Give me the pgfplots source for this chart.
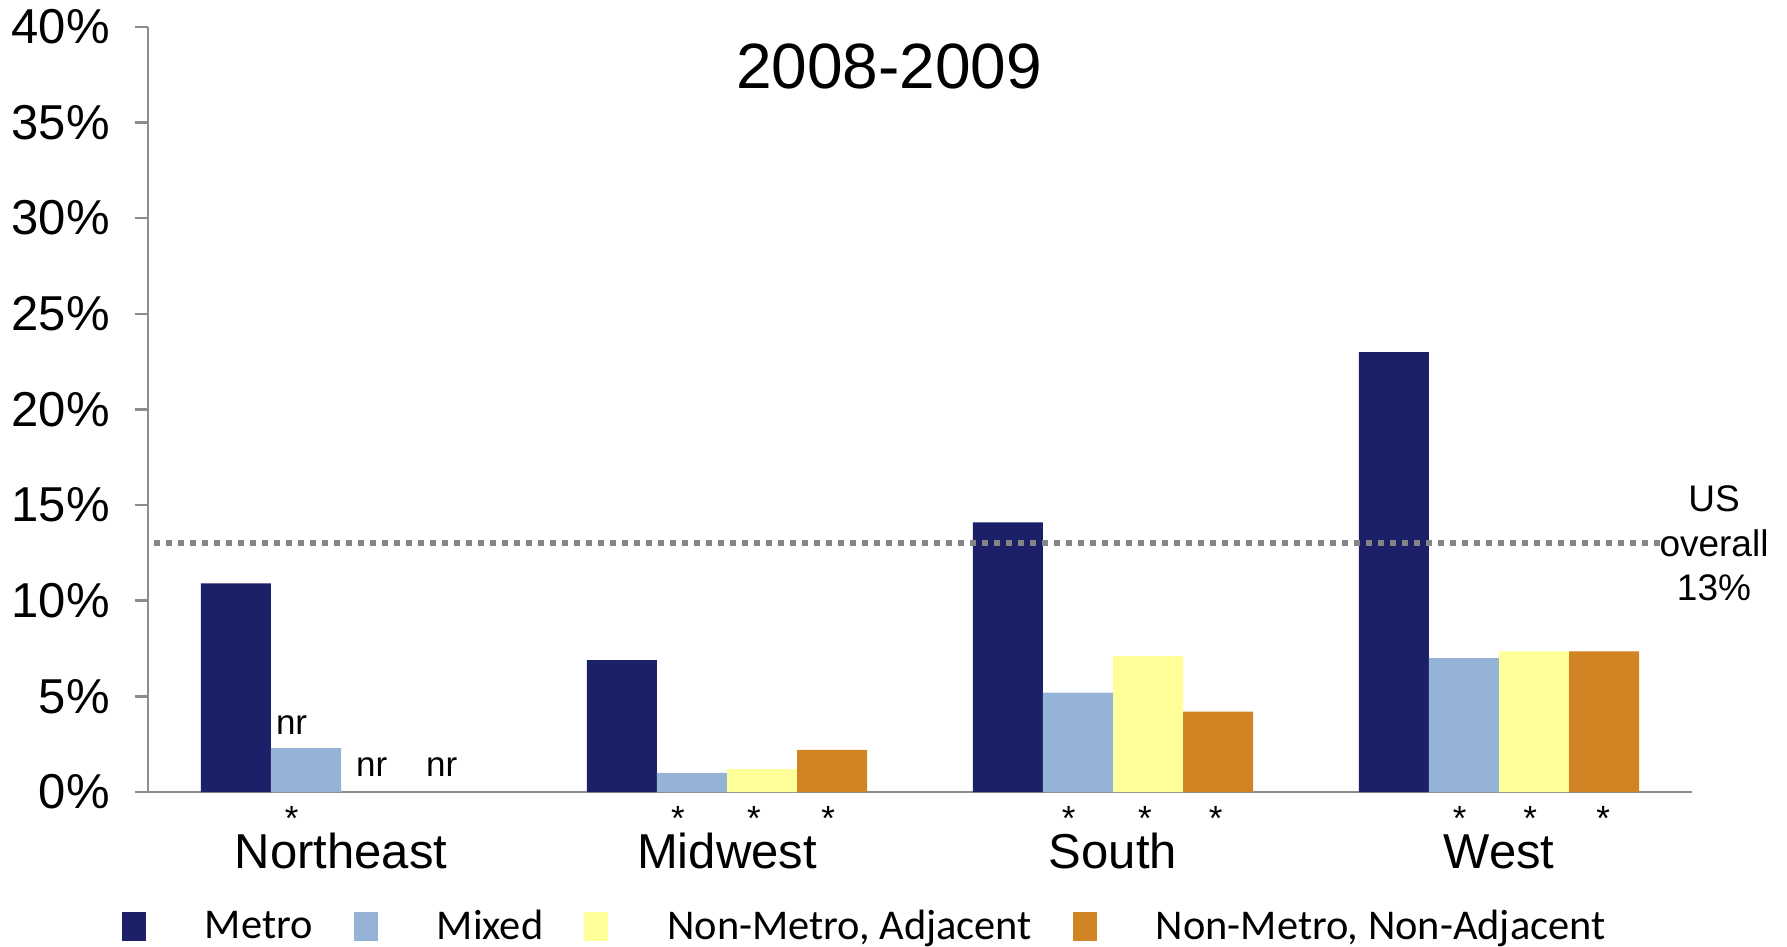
\documentclass[border=0pt]{standalone}
\usepackage{pgfplots}
\pgfplotsset{compat=1.18}
\usepackage{fontspec}
\setmainfont{Liberation Sans}
\newfontfamily\legfont{Carlito}
\definecolor{metro}{HTML}{1B2068}
\definecolor{mixed}{HTML}{95B3D7}
\definecolor{adj}{HTML}{FFFF99}
\definecolor{nonadj}{HTML}{D08424}
\definecolor{axgray}{HTML}{8C8C8C}
\definecolor{dotgray}{HTML}{858585}
\begin{document}
\begin{tikzpicture}
\begin{axis}[
  name=ax,
  width=772pt, height=382.6pt, scale only axis,
  xmin=-0.5, xmax=3.5, ymin=0, ymax=40,
  clip=false,
  axis x line*=bottom, axis y line*=left,
  axis line style={draw=axgray, line width=1.2pt},
  xtick={0,1,2,3}, xticklabels={Northeast,Midwest,South,West},
  xtick style={draw=none},
  xticklabel style={font=\fontsize{24.5}{29}\selectfont, anchor=base, inner sep=0pt, yshift=-31.6pt},
  ytick={0,5,...,40},
  yticklabel={\pgfmathprintnumber{\tick}\%},
  ytick style={draw=axgray, line width=1.2pt},
  tick align=outside, major tick length=6.7pt,
  /pgf/number format/assume math mode=true,
  yticklabel style={font=\fontsize{24.5}{29}\selectfont, anchor=east, inner sep=0pt, xshift=-12.3pt},
  legend columns=4,
  legend style={draw=none, fill=none, at={(rel axis cs:0,0)}, anchor=west,
    xshift=-13pt, yshift=-67.3pt, inner sep=0pt, outer sep=0pt,
    font=\legfont\fontsize{21.2}{25}\selectfont,
    nodes={inner sep=0pt},
    /tikz/every odd column/.append style={column sep=29.5pt},
    /tikz/every even column/.append style={column sep=20.5pt}},
]
\addplot[ybar, bar width=0.1814, bar shift=-0.2721, fill=metro, draw=none,
  legend image code/.code={\fill[metro] (0pt,-7.4pt) rectangle (12pt,7.4pt);}]
  coordinates {(0,10.9) (1,6.9) (2,14.1) (3,23.0)};
\addlegendentry{Metro}
\addplot[ybar, bar width=0.1814, bar shift=-0.0907, fill=mixed, draw=none,
  legend image code/.code={\fill[mixed] (0pt,-7.4pt) rectangle (12pt,7.4pt);}]
  coordinates {(0,2.3) (1,1.0) (2,5.2) (3,7.0)};
\addlegendentry{Mixed}
\addplot[ybar, bar width=0.1814, bar shift=0.0907, fill=adj, draw=none,
  legend image code/.code={\fill[adj] (0pt,-7.4pt) rectangle (12pt,7.4pt);}]
  coordinates {(1,1.2) (2,7.1) (3,7.35)};
\addlegendentry{Non-Metro, Adjacent}
\addplot[ybar, bar width=0.1814, bar shift=0.2721, fill=nonadj, draw=none,
  legend image code/.code={\fill[nonadj] (0pt,-7.4pt) rectangle (12pt,7.4pt);}]
  coordinates {(1,2.2) (2,4.2) (3,7.35)};
\addlegendentry{Non-Metro, Non-Adjacent}
\addplot[forget plot, color=dotgray, line width=3pt, dash pattern=on 3pt off 3pt, dash phase=-3pt]
  coordinates {(-0.5,13) (3.43,13)};
% title and annotations
\node[font=\fontsize{32}{38}\selectfont] at (rel axis cs:0.480,0.948) {2008-2009};
\node[font=\fontsize{18.5}{22.3}\selectfont, align=center, xshift=11pt] at (axis cs:3.5,13) {US\\overall\\13\%};
\begin{scope}[every node/.style={font=\fontsize{17.5}{21}\selectfont, anchor=base, inner sep=0pt}]
\node at (axis cs:-0.128,2.98) {nr};
\node at (axis cs:0.0795,0.8) {nr};
\node at (axis cs:0.261,0.8) {nr};
\end{scope}
\begin{scope}[every node/.style={font=\fontsize{17.5}{21}\selectfont, inner sep=0pt, text height=0.72em, text depth=-0.43em, anchor=center, yshift=-15.8pt}]
\node at (axis cs:-0.128,0) {*};
\node at (axis cs:0.873,0) {*};
\node at (axis cs:1.070,0) {*};
\node at (axis cs:1.262,0) {*};
\node at (axis cs:1.885,0) {*};
\node at (axis cs:2.083,0) {*};
\node at (axis cs:2.266,0) {*};
\node at (axis cs:2.898,0) {*};
\node at (axis cs:3.081,0) {*};
\node at (axis cs:3.270,0) {*};
\end{scope}
\end{axis}
\pgfresetboundingbox
\path[use as bounding box] (ax.south west) ++(-74pt,-77.5pt) rectangle ++(893.5pt,473.5pt);
\end{tikzpicture}
\end{document}
